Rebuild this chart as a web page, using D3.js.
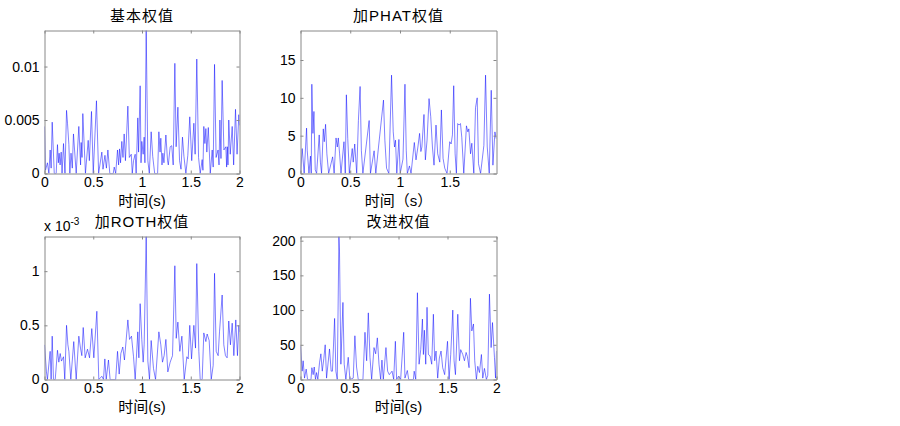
<html lang="zh">
<head>
<meta charset="UTF-8">
<title>权值对比</title>
<style>
  body { margin: 0; background: #fff; }
  svg { display: block; }
  text { font-family: "Liberation Sans", Arial, "Noto Sans CJK SC", sans-serif; fill: #000; }
  .ttl, .xl { font-size: 15px; }
  text.lbl { font-size: 14px; }
</style>
</head>
<body>
<div id="chart"></div>
<script src="https://cdn.jsdelivr.net/npm/d3@7"></script>
<script>
// 基本权值 (peaks and troughs)
const basicT = [0, 0.01, 0.03, 0.045, 0.058, 0.068, 0.079, 0.1, 0.12, 0.133, 0.142, 0.15, 0.16, 0.171, 0.18, 0.195, 0.21,
  0.226, 0.236, 0.25, 0.26, 0.272, 0.285, 0.297, 0.325, 0.352, 0.37, 0.376, 0.385, 0.393, 0.42, 0.448, 0.46, 0.482, 0.5,
  0.533, 0.555, 0.588, 0.6, 0.62, 0.635, 0.65, 0.67, 0.705, 0.715, 0.73, 0.749, 0.76, 0.77, 0.78, 0.793, 0.805, 0.817,
  0.83, 0.855, 0.87, 0.89, 0.9, 0.913, 0.93, 0.94, 0.957, 0.965, 0.981, 0.99, 0.998, 1.012, 1.022, 1.03, 1.043, 1.06,
  1.075, 1.094, 1.11, 1.13, 1.16, 1.173, 1.185, 1.193, 1.205, 1.214, 1.225, 1.245, 1.262, 1.27, 1.289, 1.305, 1.32,
  1.337, 1.35, 1.368, 1.385, 1.4, 1.415, 1.43, 1.45, 1.47, 1.49, 1.51, 1.532, 1.545, 1.562, 1.58, 1.597, 1.617, 1.625,
  1.634, 1.645, 1.655, 1.665, 1.68, 1.7, 1.72, 1.73, 1.744, 1.76, 1.78, 1.79, 1.799, 1.81, 1.822, 1.84, 1.86, 1.868,
  1.875, 1.882, 1.89, 1.905, 1.925, 1.94, 1.959, 1.975, 1.993, 2.0];
const basicV = [0.0044, 0.0003, 0.001, 0, 0.0022, 0.0005, 0.0048, 0, 0, 0.0027, 0.001, 0.0019, 0.0008, 0.002, 0, 0.0028, 0,
  0.0059, 0.0047, 0.0027, 0, 0.0019, 0.0005, 0.0037, 0, 0.0044, 0.0008, 0.0029, 0.0015, 0.0056, 0, 0.0031, 0.0012, 0.0058, 0,
  0.0068, 0, 0.002, 0.0004, 0.0017, 0.0005, 0.0022, 0, 0, 0.0006, 0, 0.0022, 0.0008, 0.0023, 0.001, 0.003, 0.0015, 0.0037,
  0.0012, 0.0063, 0.0015, 0.0018, 0, 0.0012, 0.0018, 0, 0.0052, 0.002, 0.0082, 0.001, 0.003, 0.0018, 0.0034, 0.001, 0.0134, 0.0012,
  0, 0.0039, 0.0016, 0, 0, 0.0039, 0.002, 0.0033, 0.0008, 0.0019, 0.001, 0.0036, 0.0012, 0.0008, 0.0025, 0.0026, 0.0008,
  0.0103, 0.0025, 0.0062, 0.0012, 0.0004, 0.0034, 0.0016, 0, 0.0017, 0.0053, 0.0012, 0.0047, 0.0018, 0.0107, 0.0015, 0, 0.0013, 0.0003,
  0.0044, 0.0028, 0.0042, 0.002, 0.0043, 0, 0.0022, 0.0006, 0.0102, 0.0015, 0.0022, 0.0008, 0.005, 0.0014, 0.0087, 0.0022, 0.0025, 0.0006,
  0.0025, 0.0008, 0.005, 0.0018, 0.0044, 0.0008, 0.006, 0.0018, 0.0055, 0.0045];

// 加PHAT权值
const phatT = [0, 0.017, 0.037, 0.061, 0.068, 0.085, 0.1, 0.108, 0.114, 0.125, 0.135, 0.148, 0.162, 0.188, 0.2, 0.212,
  0.229, 0.239, 0.252, 0.265, 0.283, 0.323, 0.338, 0.357, 0.37, 0.38, 0.393, 0.407, 0.437, 0.45, 0.461, 0.475, 0.491,
  0.52, 0.53, 0.545, 0.565, 0.582, 0.599, 0.612, 0.627, 0.69, 0.703, 0.74, 0.757, 0.784, 0.834, 0.848, 0.865, 0.888,
  0.915, 0.932, 0.945, 0.955, 0.968, 0.989, 1.002, 1.03, 1.05, 1.063, 1.074, 1.095, 1.111, 1.144, 1.161, 1.18, 1.197, 1.21,
  1.22, 1.241, 1.255, 1.272, 1.292, 1.309, 1.326, 1.342, 1.362, 1.379, 1.4, 1.416, 1.433, 1.45, 1.473, 1.5, 1.514, 1.527,
  1.54, 1.554, 1.567, 1.58, 1.594, 1.608, 1.621, 1.641, 1.668, 1.682, 1.692, 1.709, 1.722, 1.742, 1.759, 1.776, 1.789,
  1.81, 1.843, 1.86, 1.877, 1.897, 1.917, 1.934, 1.954, 1.967];
const phatV = [0, 3.3, 0, 6.0, 3.0, 0, 2.3, 0, 11.8, 5.3, 8.2, 0.5, 0, 5.1, 1.5, 0,
  5.9, 4.2, 6.5, 2.6, 0, 2.2, 0, 4.7, 3.5, 4.7, 2.6, 0, 4.2, 0, 10.4, 4.6, 0,
  3.3, 1.5, 3.9, 0, 7.0, 11.5, 3.0, 0, 7.0, 0, 3.0, 0, 3.5, 9.7, 4.4, 0.7, 0,
  13.0, 5.5, 3.5, 4.4, 0, 4.5, 0, 1.9, 11.8, 3.0, 0, 1.0, 0, 4.1, 1.8, 3.5, 5.3, 2.9,
  3.5, 7.8, 1.8, 4.4, 9.9, 7.5, 3.5, 1.1, 6.4, 2.6, 1.5, 8.4, 2.0, 0.7, 0, 4.2, 3.9, 5.1,
  11.6, 2.6, 0, 6.6, 6.4, 6.6, 4.8, 0, 6.3, 5.5, 5.9, 2.6, 4.0, 0, 8.7, 10.0, 1.3,
  0, 3.7, 13.0, 3.5, 0, 11.0, 1.1, 5.5, 4.6];

// 加ROTH权值 (x 10^-3)
const rothT = [0, 0.02, 0.03, 0.048, 0.058, 0.068, 0.079, 0.092, 0.11, 0.133, 0.147, 0.161, 0.174, 0.195, 0.208, 0.226,
  0.24, 0.25, 0.27, 0.3, 0.325, 0.352, 0.369, 0.383, 0.397, 0.417, 0.441, 0.462, 0.485, 0.506, 0.537, 0.557, 0.588, 0.605,
  0.619, 0.633, 0.656, 0.673, 0.73, 0.749, 0.766, 0.783, 0.803, 0.82, 0.855, 0.872, 0.892, 0.913, 0.93, 0.957, 0.968, 0.981,
  0.998, 1.012, 1.022, 1.043, 1.06, 1.077, 1.094, 1.118, 1.139, 1.173, 1.193, 1.21, 1.227, 1.245, 1.265, 1.289, 1.313, 1.337,
  1.351, 1.368, 1.388, 1.409, 1.433, 1.46, 1.474, 1.49, 1.508, 1.532, 1.549, 1.562, 1.583, 1.597, 1.617, 1.634, 1.655, 1.668,
  1.689, 1.71, 1.73, 1.744, 1.761, 1.781, 1.795, 1.822, 1.839, 1.856, 1.873, 1.89, 1.907, 1.925, 1.942, 1.962, 1.979, 1.993, 2.0];
const rothV = [0.32, 0.07, 0, 0.17, 0.26, 0, 0.40, 0, 0, 0.27, 0.16, 0.24, 0.17, 0.21, 0, 0.50,
  0.32, 0.26, 0, 0.35, 0, 0.40, 0.29, 0.22, 0.48, 0.2, 0.28, 0.2, 0.47, 0.2, 0.63, 0, 0.03, 0,
  0.19, 0, 0.18, 0, 0, 0.26, 0.05, 0.24, 0.30, 0.18, 0.55, 0.37, 0.40, 0.21, 0, 0.44, 0.2, 0.70,
  0.37, 0.16, 0.32, 1.32, 0.17, 0, 0.36, 0.1, 0, 0.44, 0.32, 0.16, 0.22, 0.37, 0.07, 0.16, 0.22, 1.05,
  0.38, 0.53, 0.26, 0.40, 0, 0.21, 0.19, 0.50, 0.19, 0.50, 0.29, 1.07, 0.26, 0, 0, 0.43, 0.35, 0.42,
  0.36, 0, 0.13, 0.98, 0.26, 0.22, 0.44, 0.78, 0.32, 0.22, 0.2, 0.54, 0.32, 0.52, 0.22, 0.55, 0.22, 0.5, 0.44];

// 改进权值
const improvedT = [0, 0.017, 0.027, 0.041, 0.058, 0.072, 0.107, 0.116, 0.129, 0.14, 0.153, 0.164, 0.177, 0.194, 0.208,
  0.222, 0.238, 0.252, 0.266, 0.296, 0.313, 0.326, 0.348, 0.361, 0.375, 0.392, 0.398, 0.412, 0.433, 0.446, 0.463, 0.487,
  0.504, 0.538, 0.555, 0.572, 0.589, 0.637, 0.658, 0.675, 0.692, 0.709, 0.726, 0.75, 0.767, 0.784, 0.801, 0.818, 0.831,
  0.845, 0.872, 0.889, 0.906, 0.934, 0.951, 0.968, 0.981, 1.002, 1.022, 1.053, 1.066, 1.09, 1.104, 1.152, 1.16, 1.176, 1.193,
  1.21, 1.227, 1.244, 1.254, 1.264, 1.278, 1.291, 1.305, 1.322, 1.339, 1.356, 1.369, 1.383, 1.4, 1.417, 1.434, 1.451, 1.471,
  1.5, 1.516, 1.533, 1.554, 1.567, 1.581, 1.605, 1.622, 1.635, 1.656, 1.673, 1.69, 1.703, 1.72, 1.734, 1.748, 1.765, 1.778,
  1.795, 1.809, 1.826, 1.846, 1.86, 1.877, 1.897, 1.911, 1.928, 1.945, 1.959, 1.979, 1.99, 2.0];
const improvedV = [48, 12, 27, 2, 15, 0, 0, 17, 7, 18, 0, 10, 0, 24, 37,
  12, 30, 50, 2, 44, 12, 12, 88, 12, 0, 206, 185, 22, 111, 22, 0, 32,
  0, 2, 63, 18, 0, 0, 68, 27, 96, 32, 0, 46, 37, 60, 22, 0, 28,
  0, 46, 12, 7, 12, 0, 55, 0, 5, 0, 68, 2, 13, 0, 0, 12, 0, 125,
  22, 43, 87, 36, 71, 22, 104, 36, 34, 22, 94, 27, 41, 2, 31, 41, 17, 7,
  55, 0, 36, 100, 27, 7, 94, 27, 43, 36, 27, 39, 33, 17, 117, 70, 80, 27,
  0, 19, 10, 36, 2, 16, 0, 6, 123, 46, 82, 32, 2, 41];

const titles = ['基本权值', '加PHAT权值', '加ROTH权值', '改进权值'];
const xLabels = ['时间(s)', '时间（s）', '时间(s)', '时间(s)'];
const xTickVals = [[0, 0.5, 1, 1.5, 2], [0, 0.5, 1, 1.5], [0, 0.5, 1, 1.5, 2], [0, 0.5, 1, 1.5, 2]];
const yTickVals = [[0, 0.005, 0.01], [0, 5, 10, 15], [0, 0.5, 1], [0, 50, 100, 150, 200]];
const xMax = [2, 1.97, 2, 2];
const yMax = [0.01337, 18.9, 1.32, 206];

const series = [[basicT, basicV], [phatT, phatV], [rothT, rothV], [improvedT, improvedV]];

const W = 900, H = 426;
const boxes = [
  { x: 44.5, y: 30.5, w: 195, h: 143 },
  { x: 300.5, y: 30.5, w: 196, h: 143 },
  { x: 44.5, y: 236.5, w: 195, h: 143 },
  { x: 300.5, y: 236.5, w: 196, h: 143 }
];

const svg = d3.select('#chart').append('svg')
  .attr('width', W).attr('height', H);

function styleAxis(a, withText) {
  a.attr('font-size', null).attr('font-family', null);
  a.select('.domain').attr('stroke', '#888');
  a.selectAll('line').attr('stroke', '#888');
  if (withText) a.selectAll('text').attr('class', 'lbl');
}

series.forEach(([ts, vs], i) => {
  const b = boxes[i];
  const x = d3.scaleLinear().domain([0, xMax[i]]).range([b.x, b.x + b.w]);
  const y = d3.scaleLinear().domain([0, yMax[i]]).range([b.y + b.h, b.y]);
  const g = svg.append('g');

  // clip so the peaks do not leave the axes
  const clipId = 'clip' + i;
  g.append('clipPath').attr('id', clipId)
    .append('rect').attr('x', b.x).attr('y', b.y).attr('width', b.w).attr('height', b.h);

  const line = d3.line().x((d, k) => x(ts[k])).y(d => y(d));
  g.append('path')
    .datum(vs)
    .attr('clip-path', `url(#${clipId})`)
    .attr('fill', 'none')
    .attr('stroke', '#0000ff')
    .attr('stroke-width', 0.5)
    .attr('stroke-linejoin', 'round')
    .attr('d', line);

  // box with inward ticks on all four sides
  const tl = 3;
  g.append('g')
    .attr('transform', `translate(0,${b.y + b.h})`)
    .call(d3.axisBottom(x).tickValues(xTickVals[i]).tickSizeInner(-tl).tickSizeOuter(0).tickPadding(4).tickFormat(d3.format('')))
    .call(a => styleAxis(a, true));
  g.append('g')
    .attr('transform', `translate(0,${b.y})`)
    .call(d3.axisTop(x).tickValues(xTickVals[i]).tickSizeInner(-tl).tickSizeOuter(0).tickFormat(''))
    .call(a => styleAxis(a, false));
  g.append('g')
    .attr('transform', `translate(${b.x},0)`)
    .call(d3.axisLeft(y).tickValues(yTickVals[i]).tickSizeInner(-tl).tickSizeOuter(0).tickPadding(5).tickFormat(d3.format('')))
    .call(a => styleAxis(a, true));
  g.append('g')
    .attr('transform', `translate(${b.x + b.w},0)`)
    .call(d3.axisRight(y).tickValues(yTickVals[i]).tickSizeInner(-tl).tickSizeOuter(0).tickFormat(''))
    .call(a => styleAxis(a, false));

  g.append('text').attr('class', 'ttl')
    .attr('x', b.x + b.w / 2).attr('y', b.y - 10)
    .attr('text-anchor', 'middle')
    .style('letter-spacing', '1px')
    .text(titles[i]);

  g.append('text').attr('class', 'xl')
    .attr('x', b.x + b.w / 2).attr('y', b.y + b.h + 32)
    .attr('text-anchor', 'middle')
    .text(xLabels[i]);
});

// exponent label of the ROTH panel
const ex = svg.append('text').attr('class', 'lbl')
  .attr('x', 44).attr('y', 231);
ex.append('tspan').text('x 10');
ex.append('tspan').attr('dy', -6).attr('font-size', 10).text('-3');
</script>
</body>
</html>
